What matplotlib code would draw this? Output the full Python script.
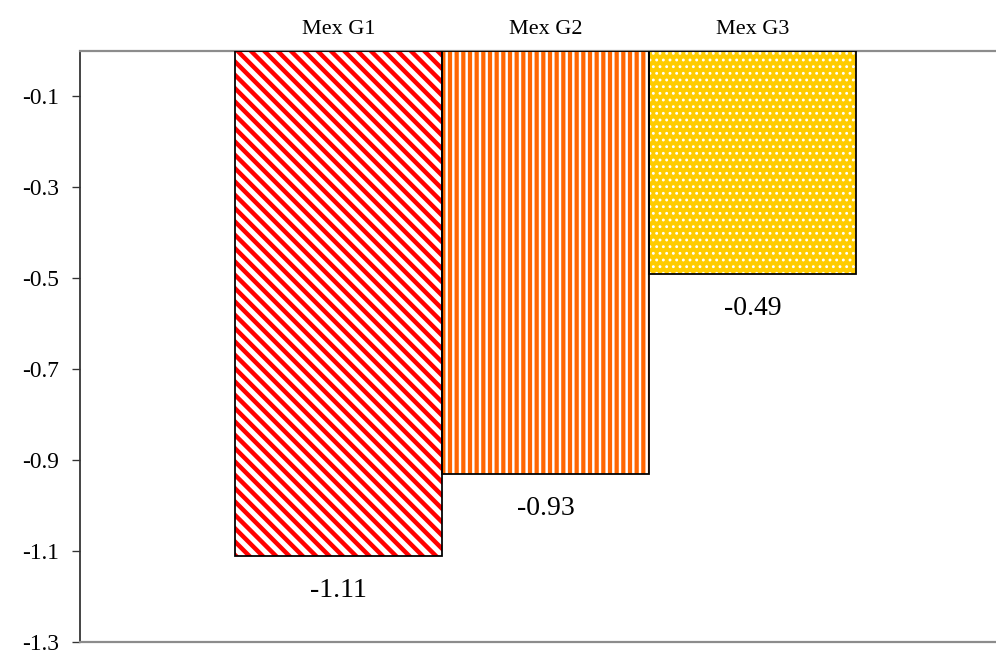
import matplotlib
matplotlib.use("Agg")
import matplotlib.pyplot as plt
import numpy as np

categories = ["Mex G1", "Mex G2", "Mex G3"]
values = [-1.11, -0.93, -0.49]
value_labels = ["-1.11", "-0.93", "-0.49"]
yticks = [-0.1, -0.3, -0.5, -0.7, -0.9, -1.1, -1.3]
ytick_labels = ["-0.1", "-0.3", "-0.5", "-0.7", "-0.9", "-1.1", "-1.3"]

face_colors = ["white", "white", "#FFCC00"]
hatch_colors = ["#FF0000", "#FF6600", "white"]
hatches = ["\\\\", "||", ".."]
hatch_widths = [4.0, 3.8, 1.4]

DPI = 80
plt.rcParams["font.family"] = ["Liberation Serif", "DejaVu Serif"]

fig = plt.figure(figsize=(996 / DPI, 661 / DPI), dpi=DPI)
ax = fig.add_axes([80 / 996, 19 / 661, (1011 - 80) / 996, (642 - 51) / 661])

x = np.arange(len(categories))

# base fill
ax.bar(x, values, width=1.0, color=face_colors, edgecolor="none", linewidth=0, zorder=2)
# pattern layer
for xi, v, hc, h, hw in zip(x, values, hatch_colors, hatches, hatch_widths):
    plt.rcParams["hatch.linewidth"] = hw
    ax.bar(xi, v, width=1.0, facecolor="none", edgecolor=hc, hatch=h, linewidth=0, zorder=3)
# outlines
ax.bar(x, values, width=1.0, facecolor="none", edgecolor="black", linewidth=1.6, zorder=4)

for xi, v, lab in zip(x, values, value_labels):
    ax.annotate(lab, (xi, v), xytext=(0, -31), textcoords="offset points",
                ha="center", va="center", fontsize=25)

ax.set_xlim(-1.25, 3.25)
ax.set_ylim(-1.3, 0.0)
ax.set_yticks(yticks)
ax.set_yticklabels(ytick_labels, fontsize=21)
ax.tick_params(axis="y", direction="out", length=7, width=1.2, color="#333333", pad=12)

ax.xaxis.tick_top()
ax.set_xticks(x)
ax.set_xticklabels(categories, fontsize=20)
ax.tick_params(axis="x", length=0, pad=11)

ax.spines["right"].set_visible(False)
ax.spines["left"].set_color("#333333")
ax.spines["left"].set_linewidth(1.6)
for side in ["top", "bottom"]:
    ax.spines[side].set_color("#8c8c8c")
    ax.spines[side].set_linewidth(2.0)

fig.savefig("out.png", dpi=DPI)
